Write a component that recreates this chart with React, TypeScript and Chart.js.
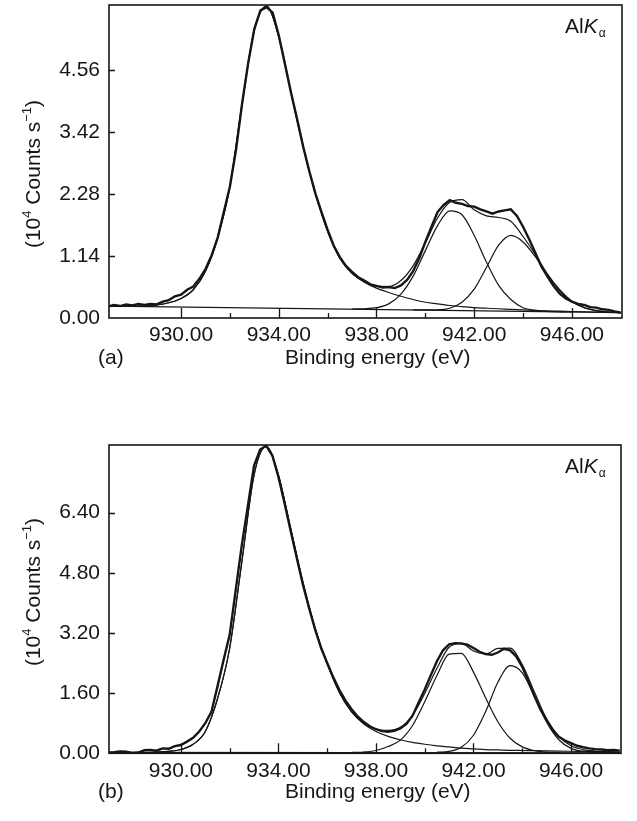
import React, { useEffect, useRef } from "react";
import { Chart, registerables } from "chart.js";

Chart.register(...registerables);

const FONT = '"Liberation Sans", Arial, Helvetica, sans-serif';
const INK = "#161616";

// ---------- axes ----------
const xMin = 927.05;
const xMax = 948.05;
const xMajorTicks = [930, 934, 938, 942, 946];
const xMinorTicks = [932, 936, 940, 944];
const yTicksA = [0, 1.14, 2.28, 3.42, 4.56];
const yTicksB = [0, 1.6, 3.2, 4.8, 6.4];
const yMaxA = 5.76;
const yMaxB = 8.2;

// ---------- energy grids (eV) ----------
const energyFine = [
  927, 927.25, 927.5, 927.75, 928, 928.25, 928.5, 928.75, 929, 929.25, 929.5, 929.75,
  930, 930.25, 930.5, 930.75, 931, 931.25, 931.5, 931.75, 932, 932.25, 932.5, 932.75,
  933, 933.25, 933.5, 933.75, 934, 934.25, 934.5, 934.75, 935, 935.25, 935.5, 935.75,
  936, 936.25, 936.5, 936.75, 937, 937.25, 937.5, 937.75, 938, 938.25, 938.5, 938.75,
  939, 939.25, 939.5, 939.75, 940, 940.25, 940.5, 940.75, 941, 941.25, 941.5, 941.75,
  942, 942.25, 942.5, 942.75, 943, 943.25, 943.5, 943.75, 944, 944.25, 944.5, 944.75,
  945, 945.25, 945.5, 945.75, 946, 946.25, 946.5, 946.75, 947, 947.25, 947.5, 947.75, 948,
];
const energyCoarse = [
  927, 927.5, 928, 928.5, 929, 929.5, 930, 930.5, 931, 931.5, 932, 932.5, 933, 933.5,
  934, 934.5, 935, 935.5, 936, 936.5, 937, 937.5, 938, 938.5, 939, 939.5, 940, 940.5,
  941, 941.5, 942, 942.5, 943, 943.5, 944, 944.5, 945, 945.5, 946, 946.5, 947, 947.5, 948,
];
const energyBackground = [927, 948];

// ---------- panel (a) ----------
const measuredA = [
  0.21, 0.24, 0.22, 0.25, 0.23, 0.26, 0.24, 0.26, 0.25, 0.3, 0.33, 0.4,
  0.43, 0.52, 0.58, 0.72, 0.9, 1.15, 1.48, 1.95, 2.42, 3.1, 3.95, 4.7,
  5.32, 5.66, 5.72, 5.62, 5.2, 4.68, 4.15, 3.66, 3.15, 2.7, 2.29, 1.95,
  1.62, 1.33, 1.12, 0.96, 0.85, 0.75, 0.69, 0.62, 0.59, 0.56, 0.57, 0.55,
  0.6, 0.7, 0.86, 1.1, 1.4, 1.68, 1.95, 2.08, 2.17, 2.12, 2.1, 2.06,
  2.05, 2.0, 1.96, 1.92, 1.96, 1.98, 2.0, 1.88, 1.68, 1.45, 1.2, 0.95,
  0.76, 0.59, 0.45, 0.36, 0.3, 0.26, 0.24, 0.2, 0.19, 0.16, 0.15, 0.12, 0.1,
];
const mainA = [
  0.22, 0.22, 0.22, 0.225, 0.24, 0.28, 0.36, 0.52, 0.86, 1.48, 2.42, 3.95, 5.3, 5.74,
  5.18, 4.15, 3.15, 2.29, 1.6, 1.1, 0.82, 0.66, 0.55, 0.47, 0.4, 0.34, 0.29, 0.26,
  0.23, 0.21, 0.19, 0.18, 0.17, 0.16, 0.15, 0.14, 0.13, 0.125, 0.12, 0.115, 0.11, 0.105, 0.1,
];
const envelopeA = [
  0.22, 0.22, 0.22, 0.225, 0.24, 0.28, 0.36, 0.52, 0.86, 1.48, 2.42, 3.95, 5.3, 5.74,
  5.18, 4.15, 3.15, 2.29, 1.6, 1.1, 0.82, 0.67, 0.585, 0.58, 0.69, 0.96, 1.38, 1.84,
  2.13, 2.18, 1.99, 1.88, 1.85, 1.78, 1.5, 1.17, 0.81, 0.52, 0.31, 0.19, 0.14, 0.11, 0.1,
];
const sat1A = [
  null, null, null, null, null, null, null, null, null, null, null, null, null, null,
  null, null, null, null, null, null, 0.165, 0.17, 0.19, 0.26, 0.44, 0.77, 1.24, 1.7,
  1.97, 1.9, 1.52, 1.03, 0.6, 0.34, 0.19, 0.14, 0.12, 0.114, 0.111, null, null, null, null,
];
const sat2A = [
  null, null, null, null, null, null, null, null, null, null, null, null, null, null,
  null, null, null, null, null, null, null, null, null, null, null, 0.149, 0.148, 0.15,
  0.18, 0.29, 0.53, 0.93, 1.34, 1.52, 1.4, 1.13, 0.8, 0.5, 0.3, 0.19, 0.13, 0.11, 0.1,
];
const backgroundA = [0.22, 0.1];

// ---------- panel (b) ----------
const measuredB = [
  0.02, 0.03, 0.05, 0.04, 0.01, 0.02, 0.08, 0.09, 0.07, 0.13, 0.12, 0.19,
  0.22, 0.31, 0.41, 0.58, 0.8, 1.1, 1.78, 2.48, 3.15, 4.35, 5.55, 6.6,
  7.65, 8.08, 8.18, 7.92, 7.35, 6.65, 5.92, 5.2, 4.5, 3.88, 3.3, 2.8,
  2.4, 2.02, 1.68, 1.4, 1.17, 0.98, 0.83, 0.72, 0.64, 0.59, 0.57, 0.6,
  0.66, 0.78, 1.0, 1.35, 1.7, 2.08, 2.45, 2.74, 2.9, 2.93, 2.92, 2.89,
  2.8, 2.7, 2.64, 2.62, 2.68, 2.78, 2.74, 2.58, 2.3, 1.92, 1.52, 1.16,
  0.88, 0.62, 0.44, 0.34, 0.27, 0.2, 0.16, 0.13, 0.11, 0.1, 0.08, 0.09, 0.07,
];
const mainB = [
  0.02, 0.02, 0.02, 0.02, 0.03, 0.05, 0.1, 0.24, 0.58, 1.45, 2.8, 5.1, 7.4, 8.16,
  7.4, 5.98, 4.55, 3.33, 2.38, 1.62, 1.1, 0.78, 0.58, 0.45, 0.36, 0.29, 0.24, 0.2,
  0.17, 0.14, 0.12, 0.1, 0.09, 0.08, 0.075, 0.07, 0.065, 0.06, 0.055, 0.05, 0.045, 0.04, 0.035,
];
const envelopeB = [
  0.02, 0.02, 0.02, 0.02, 0.03, 0.05, 0.1, 0.24, 0.58, 1.45, 2.8, 5.1, 7.4, 8.16,
  7.4, 5.98, 4.55, 3.33, 2.38, 1.62, 1.105, 0.8, 0.64, 0.61, 0.69, 1.01, 1.59, 2.26,
  2.82, 2.92, 2.72, 2.64, 2.79, 2.8, 2.36, 1.63, 0.91, 0.45, 0.2, 0.1, 0.06, 0.045, 0.035,
];
const sat1B = [
  null, null, null, null, null, null, null, null, null, null, null, null, null, null,
  null, null, null, null, null, null, 0.025, 0.035, 0.075, 0.18, 0.35, 0.74, 1.37, 2.07,
  2.64, 2.66, 2.16, 1.47, 0.84, 0.4, 0.17, 0.07, 0.03, 0.02, null, null, null, null, null,
];
const sat2B = [
  null, null, null, null, null, null, null, null, null, null, null, null, null, null,
  null, null, null, null, null, null, null, null, null, null, null, null, null, 0.03,
  0.05, 0.16, 0.48, 1.11, 1.89, 2.33, 2.14, 1.51, 0.83, 0.36, 0.13, 0.05, 0.025, 0.02, 0.02,
];
const backgroundB = [0.025, 0.015];

// ---------- labels ----------
const xTitle = "Binding energy (eV)";
const sourceLabel = ["Al", "K", "α"];
const fmt = (v: number) => v.toFixed(2);

type Spec = {
  top: number;
  height: number;
  padTop: number;
  padRight: number;
  bottomH: number;
  yMax: number;
  yTicks: number[];
  measured: number[];
  envelope: (number | null)[];
  main: (number | null)[];
  sat1: (number | null)[];
  sat2: (number | null)[];
  background: number[];
  letter: string;
  yTitleCenter: number;
  xTitleBaseline: number;
};

const pts = (xs: number[], ys: (number | null)[]) => xs.map((x, i) => ({ x, y: ys[i] }));

const decorPlugin = {
  id: "decor",
  afterDraw(chart: any, _args: any, opts: any) {
    const { ctx, chartArea: a, scales } = chart;
    const x = scales.x;
    const y = scales.y;
    ctx.save();
    ctx.strokeStyle = INK;
    ctx.lineWidth = 1.6;
    ctx.strokeRect(a.left, a.top, a.right - a.left, a.bottom - a.top);
    ctx.lineWidth = 1.3;
    ctx.beginPath();
    for (const v of xMajorTicks) {
      const px = Math.round(x.getPixelForValue(v)) + 0.5;
      ctx.moveTo(px, a.bottom);
      ctx.lineTo(px, a.bottom - 10);
    }
    for (const v of xMinorTicks) {
      const px = Math.round(x.getPixelForValue(v)) + 0.5;
      ctx.moveTo(px, a.bottom);
      ctx.lineTo(px, a.bottom - 5);
    }
    for (const v of opts.yTicks) {
      if (v === 0) continue;
      const py = Math.round(y.getPixelForValue(v)) + 0.5;
      ctx.moveTo(a.left, py);
      ctx.lineTo(a.left + 6, py);
    }
    ctx.stroke();

    ctx.fillStyle = INK;

    // tick labels
    ctx.font = `21px ${FONT}`;
    ctx.textBaseline = "middle";
    ctx.textAlign = "right";
    for (const v of opts.yTicks) {
      ctx.fillText(fmt(v), a.left - 9, y.getPixelForValue(v));
    }
    ctx.textAlign = "center";
    for (const v of xMajorTicks) {
      ctx.fillText(fmt(v), x.getPixelForValue(v), a.bottom + 17.5);
    }

    ctx.textBaseline = "alphabetic";
    ctx.textAlign = "left";

    // Al K alpha label
    let lx = 565;
    const lb = a.top + 28;
    ctx.font = `21px ${FONT}`;
    ctx.fillText(sourceLabel[0], lx, lb);
    lx += ctx.measureText(sourceLabel[0]).width;
    ctx.font = `italic 21px ${FONT}`;
    ctx.fillText(sourceLabel[1], lx, lb);
    lx += ctx.measureText(sourceLabel[1]).width;
    ctx.font = `12px ${FONT}`;
    ctx.fillText(sourceLabel[2], lx + 1, lb + 4);

    // y title with superscripts
    const pieces = [
      { t: "(10", sup: false },
      { t: "4", sup: true },
      { t: " Counts s", sup: false },
      { t: "\u22121", sup: true },
      { t: ")", sup: false },
    ];
    const fontFor = (sup: boolean) => (sup ? `13px ${FONT}` : `21px ${FONT}`);
    let total = 0;
    for (const p of pieces) {
      ctx.font = fontFor(p.sup);
      total += ctx.measureText(p.t).width;
    }
    ctx.save();
    ctx.translate(40, opts.yTitleCenter);
    ctx.rotate(-Math.PI / 2);
    let px = -total / 2;
    for (const p of pieces) {
      ctx.font = fontFor(p.sup);
      ctx.fillText(p.t, px, p.sup ? -9 : 0);
      px += ctx.measureText(p.t).width;
    }
    ctx.restore();

    // x title and panel letter
    ctx.font = `21px ${FONT}`;
    ctx.fillText(opts.letter, 98, opts.xTitleBaseline);
    ctx.fillText(xTitle, 285, opts.xTitleBaseline);
    ctx.restore();
  },
};

function makeChart(canvas: HTMLCanvasElement, s: Spec) {
  const thin = { borderColor: INK, borderWidth: 1.2, pointRadius: 0, cubicInterpolationMode: "monotone" as const, spanGaps: false };
  return new Chart(canvas, {
    type: "line",
    data: {
      datasets: [
        { label: "background", data: pts(energyBackground, s.background), ...thin },
        { label: "main", data: pts(energyCoarse, s.main), ...thin },
        { label: "sat1", data: pts(energyCoarse, s.sat1), ...thin },
        { label: "sat2", data: pts(energyCoarse, s.sat2), ...thin },
        { label: "envelope", data: pts(energyCoarse, s.envelope), ...thin },
        { label: "measured", data: pts(energyFine, s.measured), borderColor: INK, borderWidth: 2.4, pointRadius: 0, tension: 0 },
      ],
    } as any,
    options: {
      animation: false,
      responsive: false,
      devicePixelRatio: 1,
      events: [],
      layout: { padding: { top: s.padTop, right: s.padRight, left: 0, bottom: 0 } },
      plugins: {
        legend: { display: false },
        tooltip: { enabled: false },
        decor: { yTicks: s.yTicks, letter: s.letter, yTitleCenter: s.yTitleCenter, xTitleBaseline: s.xTitleBaseline },
      } as any,
      scales: {
        x: {
          type: "linear",
          min: xMin,
          max: xMax,
          afterBuildTicks: (sc: any) => {
            sc.ticks = xMajorTicks.map((v) => ({ value: v }));
          },
          afterFit: (sc: any) => {
            sc.height = s.bottomH;
          },
          ticks: { display: false },
          grid: { display: false, drawTicks: false },
          border: { display: false },
        },
        y: {
          type: "linear",
          min: 0,
          max: s.yMax,
          afterBuildTicks: (sc: any) => {
            sc.ticks = s.yTicks.map((v) => ({ value: v }));
          },
          afterFit: (sc: any) => {
            sc.width = 109;
          },
          ticks: { display: false },
          grid: { display: false, drawTicks: false },
          border: { display: false },
        },
      },
    } as any,
    plugins: [decorPlugin as any],
  });
}

function Panel({ spec }: { spec: Spec }) {
  const ref = useRef<HTMLCanvasElement>(null);
  useEffect(() => {
    const chart = makeChart(ref.current as HTMLCanvasElement, spec);
    return () => chart.destroy();
  }, [spec]);
  return (
    <canvas
      ref={ref}
      width={637}
      height={spec.height}
      style={{ position: "absolute", left: 0, top: spec.top, width: 637, height: spec.height, display: "block" }}
    />
  );
}

const specA: Spec = {
  top: 0,
  height: 400,
  padTop: 5,
  padRight: 15,
  bottomH: 82,
  yMax: yMaxA,
  yTicks: yTicksA,
  measured: measuredA,
  envelope: envelopeA,
  main: mainA,
  sat1: sat1A,
  sat2: sat2A,
  background: backgroundA,
  letter: "(a)",
  yTitleCenter: 174,
  xTitleBaseline: 364,
};

const specB: Spec = {
  top: 410,
  height: 411,
  padTop: 35,
  padRight: 16,
  bottomH: 67.7,
  yMax: yMaxB,
  yTicks: yTicksB,
  measured: measuredB,
  envelope: envelopeB,
  main: mainB,
  sat1: sat1B,
  sat2: sat2B,
  background: backgroundB,
  letter: "(b)",
  yTitleCenter: 182,
  xTitleBaseline: 388,
};

export default function App() {
  return (
    <div style={{ position: "absolute", left: 0, top: 0, width: 637, height: 821, background: "#fff", overflow: "hidden" }}>
      <Panel spec={specA} />
      <Panel spec={specB} />
    </div>
  );
}
